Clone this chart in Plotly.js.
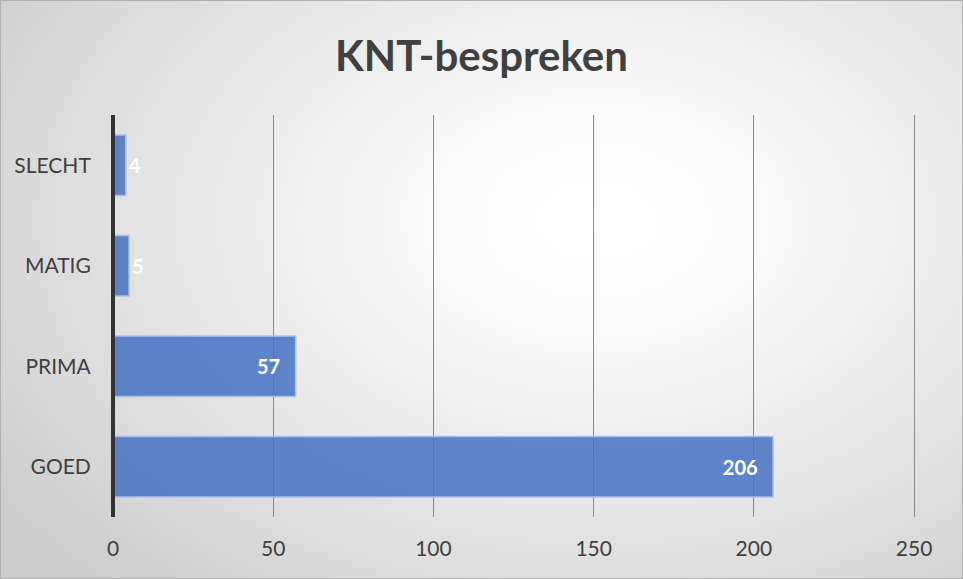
<!DOCTYPE html>
<html><head><meta charset="utf-8">
<script src="https://cdn.plot.ly/plotly-3.0.1.min.js"></script>
<style>
html,body{margin:0;padding:0;}
#wrap{width:963px;height:579px;box-sizing:border-box;border:1px solid #b0b0b0;
background:radial-gradient(ellipse 75% 85% at 62% 38%, #ffffff 0%, #fbfbfb 20%, #e6e6e6 60%, #cdcdcd 100%);}
#chart{width:961px;height:577px;}
</style></head><body>
<div id="wrap"><div id="chart"></div></div>
<script>
const categories = ['GOED','PRIMA','MATIG','SLECHT'];
const values = [206, 57, 5, 4];
const tickVals = [0, 50, 100, 150, 200, 250];

const FONT = 'Lato, "Open Sans", sans-serif';
Plotly.newPlot('chart', [{
  type: 'bar', orientation: 'h',
  y: categories, x: values,
  text: values.map(v => v < 20 ? String(v) : v + '\u2002\u2009'),
  textposition: values.map(v => v < 20 ? 'outside' : 'inside'),
  insidetextanchor: 'end',
  textfont: {family: FONT, size: 20, color: '#ffffff', weight: 'bold'},
  outsidetextfont: {family: FONT, size: 20, color: '#ffffff', weight: 'bold'},
  constraintext: 'none',
  cliponaxis: false,
  marker: {color: 'rgba(68,114,196,0.85)', line: {color: '#a9c0ea', width: 1.5}},
  hoverinfo: 'skip'
}], {
  width: 961, height: 577,
  paper_bgcolor: 'rgba(0,0,0,0)', plot_bgcolor: 'rgba(0,0,0,0)',
  margin: {l: 112, r: 46, t: 114, b: 61},
  bargap: 0.4,
  showlegend: false,
  title: {text: 'KNT-bespreken', x: 0.5, xanchor: 'center', y: 0.905, yanchor: 'middle',
    font: {family: FONT, size: 42, color: '#404040', weight: 'bold'}},
  xaxis: {range: [0, 250.6], tickvals: tickVals, showgrid: true, gridcolor: '#8a8a8a', gridwidth: 1,
    zeroline: false, showline: false, ticks: 'outside', ticklen: 13, tickcolor: 'rgba(0,0,0,0)',
    tickfont: {family: FONT, size: 21, color: '#404040'}},
  yaxis: {type: 'category', showgrid: false, zeroline: false, showline: false,
    ticks: 'outside', ticklen: 17, tickcolor: 'rgba(0,0,0,0)',
    tickfont: {family: FONT, size: 21, color: '#404040'}},
  shapes: [{type: 'line', xref: 'paper', yref: 'paper', x0: 0, x1: 0, y0: 0, y1: 1, layer: 'above',
    line: {color: '#333333', width: 4}}]
}, {displayModeBar: false, staticPlot: true});
</script>
</body></html>
